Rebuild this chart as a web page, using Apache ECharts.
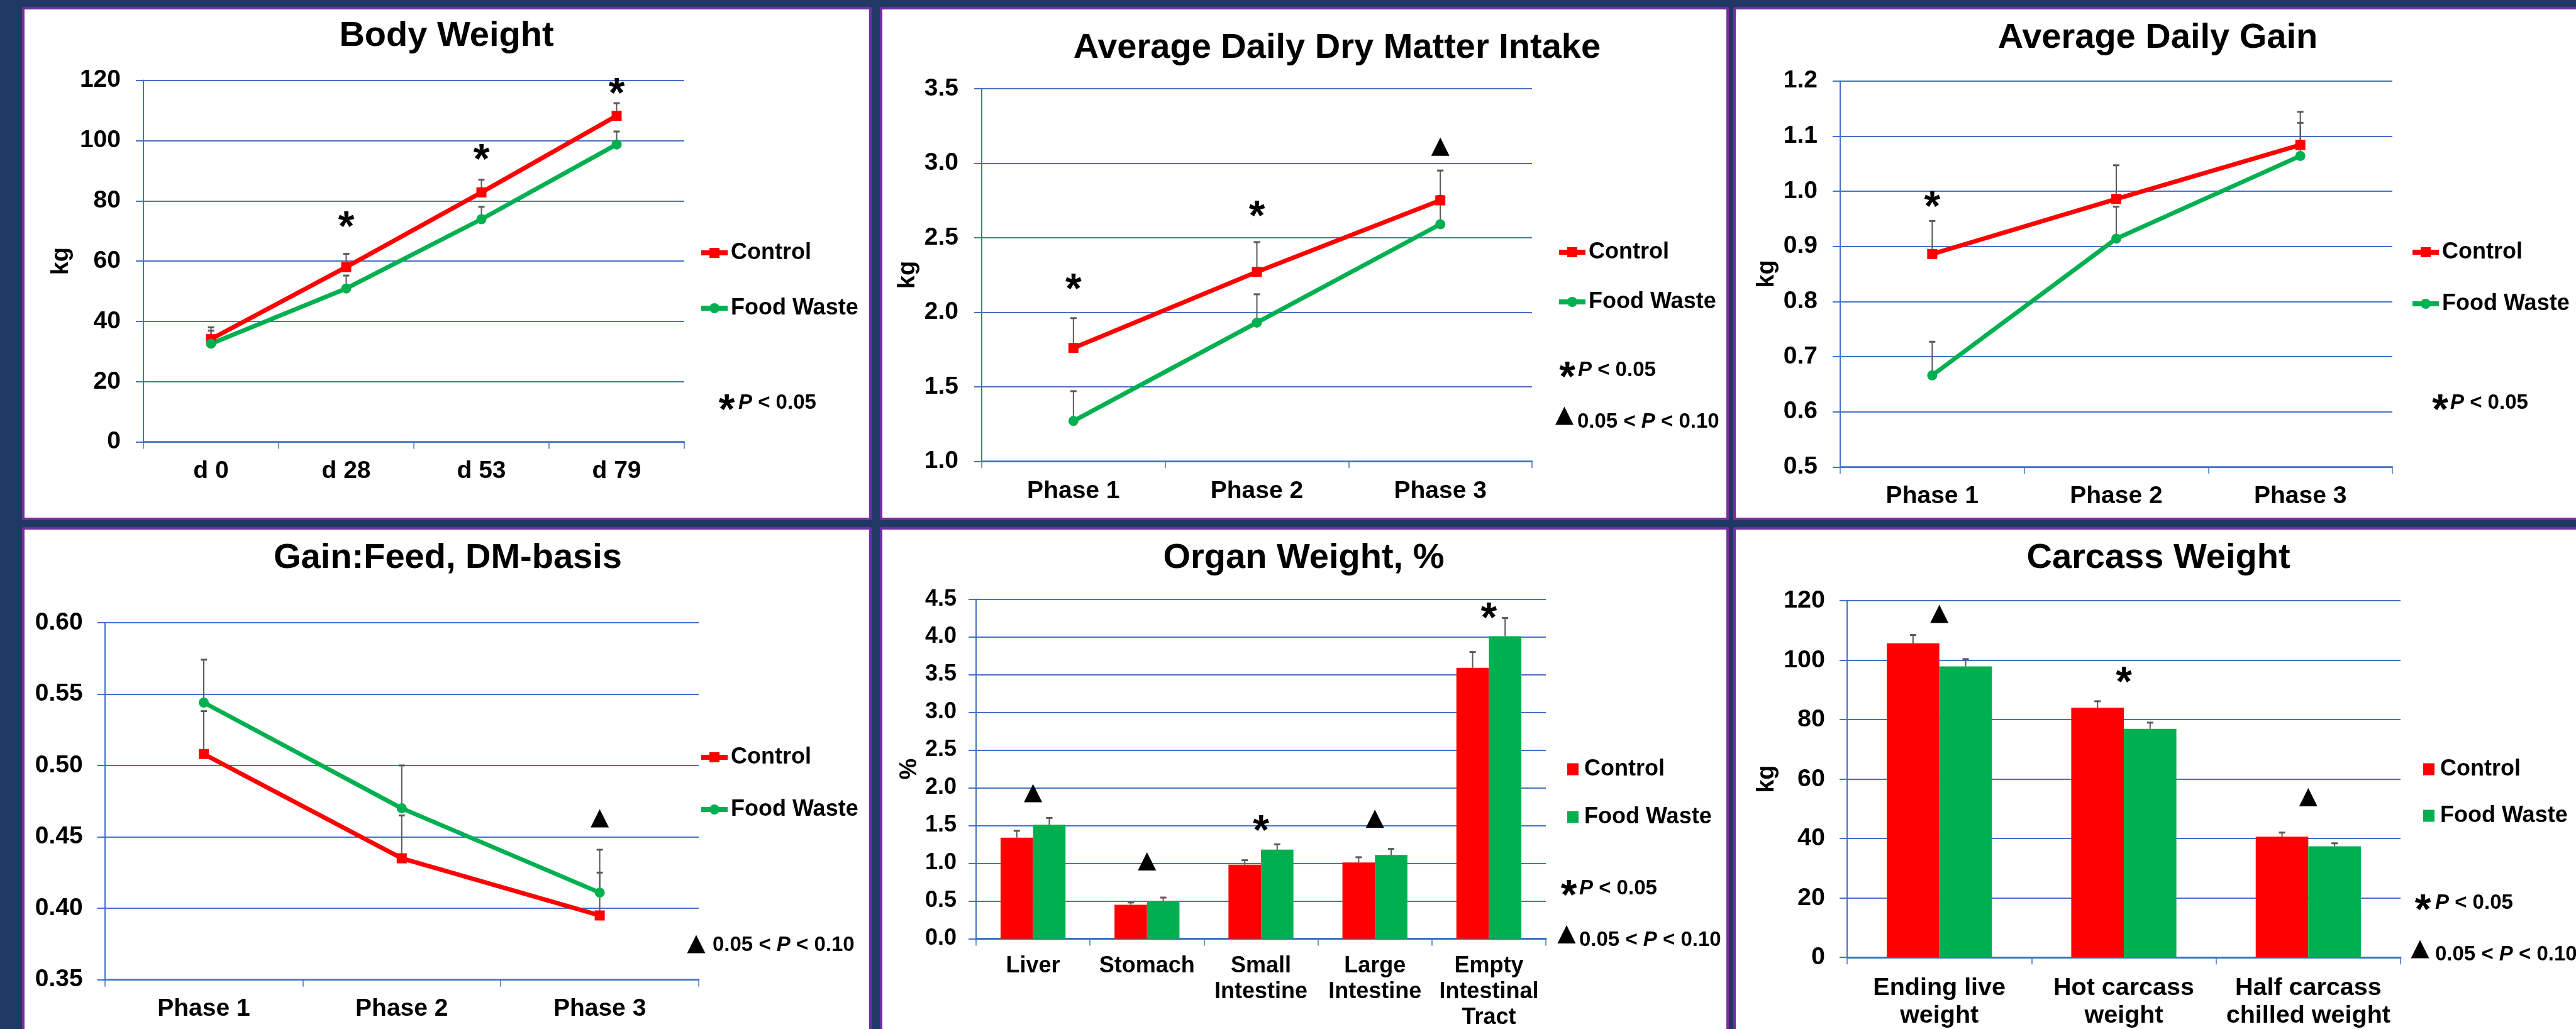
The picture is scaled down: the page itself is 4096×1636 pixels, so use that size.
<!DOCTYPE html>
<html>
<head>
<meta charset="utf-8">
<title>Food waste feeding trial</title>
<script src="https://cdn.jsdelivr.net/npm/echarts@6/dist/echarts.min.js"></script>
<style>
  html, body { margin: 0; padding: 0; overflow: hidden; background: #203864; width: 4096px; height: 1636px; }
  .panel { position: absolute; box-sizing: border-box; background: #fff; border: 4.5px solid #7030a0; border-radius: 3px; }
  #chart { position: absolute; left: 0; top: 0; width: 4096px; height: 1636px; }
</style>
</head>
<body>
<div id="panels"></div>
<div id="chart"></div>
<script>
// ---- data ----
var phases = ["Phase 1", "Phase 2", "Phase 3"];

var bwDays = ["d 0", "d 28", "d 53", "d 79"];
var bwControl = [34.1, 58.0, 82.8, 108.2];
var bwControlSe = [3.9, 4.4, 4.2, 4.2];
var bwWaste = [32.6, 50.9, 73.9, 98.7];
var bwWasteSe = [4.3, 4.3, 4.1, 4.3];
var bwSig = [[1, 73.7, "*"], [2, 96.0, "*"], [3, 117.8, "*"]];
var bwAxis = [0, 120, 20];

var dmiControl = [1.76, 2.27, 2.75];
var dmiControlSe = [0.20, 0.20, 0.20];
var dmiWaste = [1.27, 1.93, 2.59];
var dmiWasteSe = [0.20, 0.19, 0.19];
var dmiSig = [[0, 2.2, "*"], [1, 2.69, "*"], [2, 3.11, "▲"]];
var dmiAxis = [1.0, 3.5, 0.5];

var adgControl = [0.886, 0.986, 1.084];
var adgControlSe = [0.060, 0.061, 0.060];
var adgWaste = [0.666, 0.914, 1.064];
var adgWasteSe = [0.061, 0.058, 0.060];
var adgSig = [[0, 0.984, "*"]];
var adgAxis = [0.5, 1.2, 0.1];

var gfControl = [0.508, 0.435, 0.395];
var gfControlSe = [0.030, 0.030, 0.030];
var gfWaste = [0.544, 0.470, 0.411];
var gfWasteSe = [0.030, 0.030, 0.030];
var gfSig = [[2, 0.463, "▲"]];
var gfAxis = [0.35, 0.60, 0.05];

var organs = ["Liver", "Stomach", "Small\nIntestine", "Large\nIntestine", "Empty\nIntestinal\nTract"];
var orgControl = [1.34, 0.45, 0.98, 1.01, 3.59];
var orgControlSe = [0.09, 0.03, 0.06, 0.07, 0.21];
var orgWaste = [1.51, 0.50, 1.18, 1.11, 4.01];
var orgWasteSe = [0.09, 0.045, 0.07, 0.08, 0.24];
var orgSig = [[0, 1.93, "▲"], [1, 1.025, "▲"], [2, 1.526, "*"], [3, 1.59, "▲"], [4, 4.34, "*"]];
var orgAxis = [0, 4.5, 0.5];

var carcass = ["Ending live\nweight", "Hot carcass\nweight", "Half carcass\nchilled weight"];
var carControl = [105.7, 84.0, 40.6];
var carControlSe = [2.8, 2.2, 1.4];
var carWaste = [97.9, 76.9, 37.4];
var carWasteSe = [2.5, 2.1, 1.0];
var carSig = [[0, 115.6, "▲"], [1, 94.9, "*"], [2, 53.9, "▲"]];
var carAxis = [0, 120, 20];

// ---- look ----
var FONT = "'Liberation Sans', Arial, sans-serif";
var RED = "#ff0000";
var GREEN = "#00b050";
var BLUE = "#4472c4";
var AXIS_BLUE = "#2e75b6";
var GREY = "#595959";
var BAR_GAP = 0.43;

// white boxes with purple frames, behind the chart canvas
var panelBoxes = [
  [35, 10.5, 1351, 816], [1398.5, 10.5, 1350, 816], [2755.5, 10.5, 1400, 816],
  [35, 837.7, 1351, 820], [1398.5, 837.7, 1350, 820], [2755.5, 837.7, 1400, 820]
];
panelBoxes.forEach(function (b) {
  var d = document.createElement("div");
  d.className = "panel";
  d.style.left = b[0] + "px";
  d.style.top = b[1] + "px";
  d.style.width = b[2] + "px";
  d.style.height = b[3] + "px";
  document.getElementById("panels").appendChild(d);
});

var chart = echarts.init(document.getElementById("chart"));

var option = {
  backgroundColor: "transparent",
  animation: false,
  grid: [], xAxis: [], yAxis: [], legend: [], series: [], graphic: []
};

function boldFont(size, italic) {
  return (italic ? "italic " : "") + "bold " + size + "px " + FONT;
}

function textEl(x, y, text, size) {
  return {
    type: "text", x: x, y: y, silent: true,
    style: {
      text: text, font: boldFont(size), fill: "#000",
      align: "center", verticalAlign: "middle", textAlign: "center", textVerticalAlign: "middle"
    }
  };
}

// significance mark: asterisk or filled triangle centred on (x, y)
function markEl(kind, x, y) {
  if (kind === "▲") {
    return {
      type: "polygon", silent: true,
      shape: { points: [[x, y - 14.5], [x - 14.5, y + 14.5], [x + 14.5, y + 14.5]] },
      style: { fill: "#000" }
    };
  }
  return textEl(x, y + 14, "*", 66);
}

function noteEls(n) {
  var txt = n.kind === "*" ? "{i|P}{b| < 0.05}" : "{b|0.05 < }{i|P}{b| < 0.10}";
  return [markEl(n.kind, n.mx, n.my), {
    type: "text", x: n.tx, y: n.ty, silent: true,
    style: {
      text: txt, fill: "#000", font: boldFont(33),
      align: "left", verticalAlign: "middle", textAlign: "left", textVerticalAlign: "middle",
      rich: {
        b: { fontFamily: FONT, fontWeight: "bold", fontSize: 33, fill: "#000" },
        i: { fontFamily: FONT, fontWeight: "bold", fontStyle: "italic", fontSize: 33, fill: "#000" }
      }
    }
  }];
}

// upward error bars; side shifts onto the left/right bar of a pair
function errorBars(i, values, errs, side) {
  return {
    type: "custom", xAxisIndex: i, yAxisIndex: i, silent: true, z: side ? 4 : 1,
    data: values.map(function (v, k) { return [k, v, errs[k]]; }),
    renderItem: function (params, api) {
      var base = api.coord([api.value(0), api.value(1)]);
      var top = api.coord([api.value(0), api.value(1) + api.value(2)]);
      var x = base[0] + side * api.size([1, 0])[0] * (1 - BAR_GAP) / 4;
      return {
        type: "group", children: [
          { type: "line", shape: { x1: x, y1: base[1], x2: x, y2: top[1] }, style: { stroke: GREY, lineWidth: 2 } },
          { type: "line", shape: { x1: x - 5, y1: top[1], x2: x + 5, y2: top[1] }, style: { stroke: GREY, lineWidth: 3 } }
        ]
      };
    }
  };
}

function sigMarks(i, marks) {
  return {
    type: "custom", xAxisIndex: i, yAxisIndex: i, silent: true, z: 5,
    data: marks.map(function (m) { return [m[0], m[1]]; }),
    renderItem: function (params, api) {
      var p = api.coord([api.value(0), api.value(1)]);
      return markEl(marks[params.dataIndex][2], p[0], p[1]);
    }
  };
}

function addPanel(p) {
  var i = option.grid.length;
  var g = p.grid;
  option.grid.push({
    left: g[0], top: g[1], width: g[2] - g[0], height: g[3] - g[1],
    containLabel: false, outerBoundsMode: "none"
  });
  option.xAxis.push({
    type: "category", gridIndex: i, data: p.cats, boundaryGap: true,
    axisLine: { show: true, lineStyle: { color: p.bars ? AXIS_BLUE : BLUE, width: p.bars ? 3 : 2.5 } },
    axisTick: { show: true, length: 11, alignWithLabel: false, lineStyle: { color: BLUE, width: 1.5 } },
    axisLabel: {
      show: true, interval: 0, margin: p.xMargin, color: "#000",
      fontFamily: FONT, fontWeight: "bold", fontSize: p.xSize, lineHeight: p.xLine
    },
    splitLine: { show: false }
  });
  option.yAxis.push({
    type: "value", gridIndex: i, min: p.axis[0], max: p.axis[1], interval: p.axis[2],
    axisLine: { show: true, lineStyle: { color: BLUE, width: 2 } },
    axisTick: { show: true, length: 12, lineStyle: { color: BLUE, width: 2 } },
    axisLabel: {
      show: true, margin: p.yMargin, color: "#000",
      fontFamily: FONT, fontWeight: "bold", fontSize: p.ySize,
      formatter: function (v) { return v.toFixed(p.dec); }
    },
    splitLine: { show: true, lineStyle: { color: BLUE, width: 1.8 } },
    name: p.yName || "", nameLocation: "middle", nameGap: p.nameGap || 0, nameRotate: 90,
    nameTextStyle: { color: "#000", fontFamily: FONT, fontWeight: "bold", fontSize: 38 }
  });

  var groups = [
    ["Control", p.control, p.controlSe, RED, "rect", -1],
    ["Food Waste", p.waste, p.wasteSe, GREEN, "circle", 1]
  ];
  groups.forEach(function (s) {
    if (p.bars) {
      option.series.push({
        type: "bar", name: s[0], xAxisIndex: i, yAxisIndex: i, data: s[1], silent: true,
        barGap: "0%", barCategoryGap: BAR_GAP * 100 + "%", itemStyle: { color: s[3] }, z: 2
      });
    } else {
      option.series.push({
        type: "line", name: s[0], xAxisIndex: i, yAxisIndex: i, data: s[1], silent: true,
        symbol: s[4], symbolSize: 16, showSymbol: true,
        lineStyle: { color: s[3], width: 7 }, itemStyle: { color: s[3], borderWidth: 0 }, z: 3
      });
    }
    option.series.push(errorBars(i, s[1], s[2], p.bars ? s[5] : 0));
  });
  option.series.push(sigMarks(i, p.sig));

  option.legend.push({
    orient: "vertical", left: p.legend[0], top: p.legend[1], itemGap: p.legend[2],
    itemWidth: p.bars ? 18 : 42, itemHeight: p.bars ? 19 : 20, padding: 0, selectedMode: false,
    data: p.bars ? [{ name: "Control", icon: "rect" }, { name: "Food Waste", icon: "rect" }] : ["Control", "Food Waste"],
    textStyle: {
      color: "#000", fontFamily: FONT, fontWeight: "bold", fontSize: 36, lineHeight: 36,
      padding: p.bars ? [0, 0, 0, 4] : 0
    },
    lineStyle: { width: 8 },
    itemStyle: { borderWidth: 0 }
  });

  option.graphic.push(textEl(p.titleAt[0], p.titleAt[1], p.title, 56));
  p.notes.forEach(function (n) {
    option.graphic = option.graphic.concat(noteEls(n));
  });
}

addPanel({
  title: "Body Weight", titleAt: [710, 58],
  cats: bwDays, control: bwControl, controlSe: bwControlSe, waste: bwWaste, wasteSe: bwWasteSe,
  sig: bwSig, axis: bwAxis, dec: 0,
  grid: [228, 127.6, 1088, 702.6], yName: "kg", nameGap: 111,
  ySize: 39, yMargin: 36, xSize: 39, xLine: 39, xMargin: 27,
  legend: [1111, 384, 52],
  notes: [{ kind: "*", mx: 1155.5, my: 640.6, tx: 1174, ty: 640.6 }]
});

addPanel({
  title: "Average Daily Dry Matter Intake", titleAt: [2126, 77],
  cats: phases, control: dmiControl, controlSe: dmiControlSe, waste: dmiWaste, wasteSe: dmiWasteSe,
  sig: dmiSig, axis: dmiAxis, dec: 1,
  grid: [1561, 140.8, 2436, 733.3], yName: "kg", nameGap: 98,
  ySize: 39, yMargin: 37, xSize: 39, xLine: 39, xMargin: 28,
  legend: [2475, 383, 43],
  notes: [
    { kind: "*", mx: 2492, my: 589, tx: 2509, ty: 589 },
    { kind: "▲", mx: 2487.5, my: 661, tx: 2508, ty: 671 }
  ]
});

addPanel({
  title: "Average Daily Gain", titleAt: [3431, 61],
  cats: phases, control: adgControl, controlSe: adgControlSe, waste: adgWaste, wasteSe: adgWasteSe,
  sig: adgSig, axis: adgAxis, dec: 1,
  grid: [2926, 128.7, 3804, 742.3], yName: "kg", nameGap: 97,
  ySize: 39, yMargin: 36, xSize: 39, xLine: 39, xMargin: 27,
  legend: [3832, 383, 46],
  notes: [{ kind: "*", mx: 3880, my: 641, tx: 3896, ty: 641 }]
});

addPanel({
  title: "Gain:Feed, DM-basis", titleAt: [712, 888],
  cats: phases, control: gfControl, controlSe: gfControlSe, waste: gfWaste, wasteSe: gfWasteSe,
  sig: gfSig, axis: gfAxis, dec: 2,
  grid: [166.6, 989.8, 1111, 1557.7],
  ySize: 39, yMargin: 35, xSize: 39, xLine: 39, xMargin: 27,
  legend: [1111, 1186, 47],
  notes: [{ kind: "▲", mx: 1107, my: 1501, tx: 1133, ty: 1503 }]
});

addPanel({
  title: "Organ Weight, %", titleAt: [2073, 888], bars: true,
  cats: organs, control: orgControl, controlSe: orgControlSe, waste: orgWaste, wasteSe: orgWasteSe,
  sig: orgSig, axis: orgAxis, dec: 1,
  grid: [1552, 952.6, 2458, 1492.4], yName: "%", nameGap: 86,
  ySize: 36, yMargin: 31, xSize: 36, xLine: 41, xMargin: 23,
  legend: [2492, 1205, 40],
  notes: [
    { kind: "*", mx: 2494.5, my: 1413, tx: 2511, ty: 1413 },
    { kind: "▲", mx: 2491, my: 1485.5, tx: 2511, ty: 1495 }
  ]
});

addPanel({
  title: "Carcass Weight", titleAt: [3432, 888], bars: true,
  cats: carcass, control: carControl, controlSe: carControlSe, waste: carWaste, wasteSe: carWasteSe,
  sig: carSig, axis: carAxis, dec: 0,
  grid: [2937, 955.2, 3817, 1522.2], yName: "kg", nameGap: 108,
  ySize: 39.5, yMargin: 35, xSize: 39.5, xLine: 44, xMargin: 27,
  legend: [3853, 1205, 38],
  notes: [
    { kind: "*", mx: 3852.5, my: 1436, tx: 3872, ty: 1436 },
    { kind: "▲", mx: 3848, my: 1509, tx: 3872, ty: 1518 }
  ]
});

chart.setOption(option);
</script>
</body>
</html>
